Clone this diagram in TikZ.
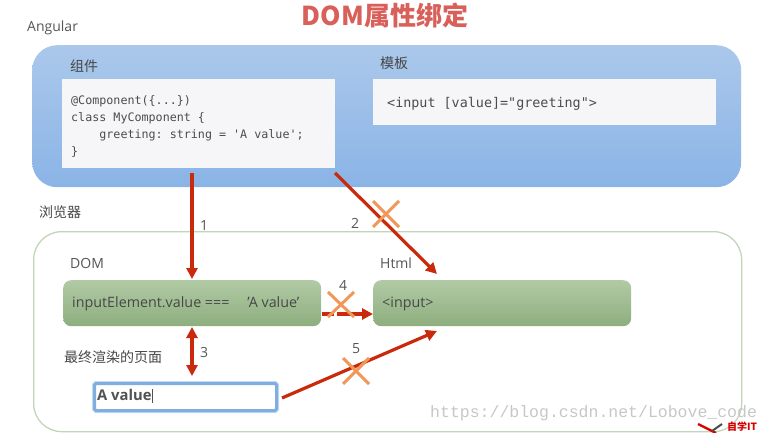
\documentclass[tikz,border=0pt]{standalone}
\usepackage{fontspec}
\setmainfont{Open Sans}
\setmonofont{DejaVu Sans Mono}
\newfontfamily\cjk{Noto Sans CJK SC}
\newfontfamily\wm{Liberation Mono}
\usetikzlibrary{arrows.meta}
\definecolor{txt}{HTML}{555555}
\definecolor{arrowred}{HTML}{C92A0C}
\definecolor{crossor}{HTML}{F0985A}
\definecolor{green1}{HTML}{B1CAA5}
\definecolor{green2}{HTML}{8DAE7E}
\definecolor{blue1}{HTML}{ABC8EB}
\definecolor{blue2}{HTML}{8AB4E6}
\definecolor{paper}{HTML}{F6F6F9}
\definecolor{titlered}{HTML}{D9605A}
\definecolor{inpblue}{HTML}{7FAEDF}
\tikzset{
 x=1pt,y=-1pt,
 panel/.style={anchor=north west,inner sep=0pt,rounded corners=#1},
 whitebox/.style={anchor=north west,inner sep=0pt,fill=paper},
 greenbox/.style={anchor=north west,inner sep=0pt,rounded corners=8,top color=green1,bottom color=green2},
 lab/.style={anchor=west,inner sep=0pt,text=txt,font=\fontsize{14}{16}\selectfont},
 cjklab/.style={anchor=west,inner sep=0pt,text=black!72,font=\cjk\fontsize{14}{16}\selectfont},
 num/.style={inner sep=0pt,text=txt,font=\fontsize{14}{16}\selectfont},
 code/.style={inner sep=0pt,text=black!70,font=\ttfamily\fontsize{11.7}{17}\selectfont},
 link/.style={draw=arrowred,line width=3.2,-{Triangle[length=11,width=11]}},
 crossline/.style={draw=crossor,line width=3},
}
\begin{document}
\begin{tikzpicture}
\useasboundingbox (0,0) rectangle (771,433);
% title and outer panels
\node[inner sep=0pt,text=titlered,font=\cjk\bfseries\fontsize{26}{28}\selectfont] (title) at (385,15) {DOM属性绑定};
\node[lab] (angular) at (27,27.5) {Angular};
\node[panel=25,minimum width=709,minimum height=142,top color=blue1,bottom color=blue2] (ng) at (32,45) {};
\node[panel=28,minimum width=708,minimum height=200,draw=green1!80!white,line width=1.3] (browser) at (33,231) {};
\node[cjklab] (browserlab) at (39,212) {浏览器};
% component
\node[cjklab] (complab) at (70,66.5) {组件};
\node[whitebox,minimum width=273,minimum height=89] (comp) at (62,79) {};
\node[code,anchor=north west,align=left] (compcode) at (71,95) {@Component(\{...\})\\class MyComponent \{\\\ \ \ \ greeting: string = 'A value';\\\}};
% template
\node[cjklab] (tpllab) at (380,63) {模板};
\node[whitebox,minimum width=343,minimum height=46] (tpl) at (373,79) {};
\node[code,anchor=west,font=\ttfamily\fontsize{13.4}{16}\selectfont] (tplcode) at (387,104) {<input [value]="greeting">};
% DOM
\node[lab] (domlab) at (70,263) {DOM};
\node[greenbox,minimum width=258,minimum height=46] (dom) at (63,280) {};
\node[lab,text=black!72,font=\fontsize{14.3}{16}\selectfont] (domtext) at (72,303.5) {inputElement.value ===\hspace{1.25em}'A value'};
% Html
\node[lab] (htmllab) at (380,263) {Html};
\node[greenbox,minimum width=258,minimum height=46] (html) at (373,280) {};
\node[lab,text=black!72,font=\fontsize{14.3}{16}\selectfont] (htmltext) at (382,304) {<input>};
% page
\node[cjklab] (pagelab) at (64,357) {最终渲染的页面};
\node[anchor=north west,inner sep=0pt,minimum width=182,minimum height=27,fill=white,draw=inpblue,line width=3,rounded corners=1.5,preaction={draw=inpblue!45!white,line width=5}] (inp) at (93,382) {};
\node[lab,text=black!68,font=\bfseries\fontsize{14.8}{16}\selectfont] (inptext) at (97,395.5) {A value\rule[-2pt]{.8pt}{14pt}};
% free ends of connectors
\coordinate (a1s) at (192,173);
\coordinate (a1e) at (192,279);
\coordinate (a2s) at (335,173);
\coordinate (a2e) at (437,274);
\coordinate (a3s) at (192,327);
\coordinate (a3e) at (192,376);
\coordinate (a4s) at (322,314);
\coordinate (a4e) at (373,314);
\coordinate (a5s) at (282,398);
\coordinate (a5e) at (437,331);
\draw[link] (a1s) -- (a1e);
\draw[link] (a2s) -- (a2e);
\draw[link,{Triangle[length=11,width=11]}-{Triangle[length=11,width=11]}] (a3s) -- (a3e);
\draw[link,dash pattern=on 12 off 3 on 30 off 0] (a4s) -- (a4e);
\draw[link] (a5s) -- (a5e);
% numbers
\node[num] (n1) at (204,226) {1};
\node[num] (n2) at (355,223) {2};
\node[num] (n3) at (204,352.5) {3};
\node[num] (n4) at (343,285) {4};
\node[num] (n5) at (356,349) {5};
% crosses
\draw[crossline] (373,201) -- (399,227) (399,201) -- (373,227);
\draw[crossline] (328,292) -- (354,317) (354,292) -- (328,317);
\draw[crossline] (343,358) -- (369,384) (369,358) -- (343,384);
% watermark
\node[anchor=west,inner sep=0pt,text=black!22,font=\wm\fontsize{16.5}{18}\selectfont] (wmark) at (430,413) {https://blog.csdn.net/Lobove\_code};
\node[anchor=west,inner sep=0pt,font=\cjk\bfseries\fontsize{10}{11}\selectfont,text=red!85!black] (logo) at (727,426.5) {自学IT};
\draw[red!85!black,line width=2.4] (698,424) -- (716,433);
\draw[black!70,line width=2] (712,431) -- (722,424);
\end{tikzpicture}
\end{document}
